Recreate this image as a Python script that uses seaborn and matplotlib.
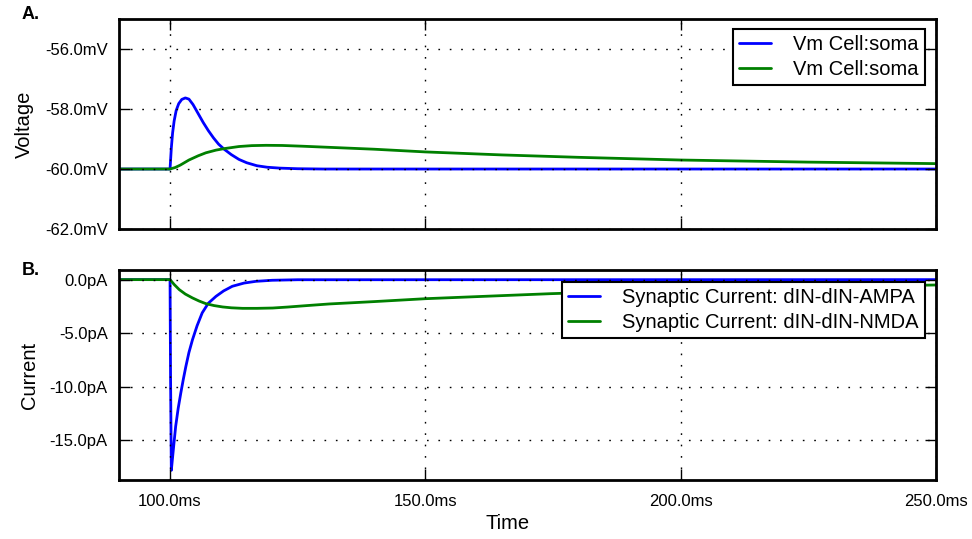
import matplotlib
matplotlib.use("Agg")
import matplotlib.pyplot as plt
import seaborn as sns
import pandas as pd
from matplotlib.ticker import FuncFormatter, MultipleLocator

# ---- data ----
t_vm_ampa = [90, 100, 100.25, 100.5, 100.8, 101.2, 101.7, 102.3, 103.0, 103.7, 104.5, 105.5, 106.5,
             107.5, 108.5, 109.5, 110.6, 112, 113.5, 115, 117, 119, 121.5, 125, 130, 250]
vm_ampa = [-60, -60, -59.3, -58.8, -58.4, -58.05, -57.82, -57.68, -57.63, -57.67, -57.85, -58.15, -58.45,
           -58.72, -58.96, -59.17, -59.34, -59.52, -59.68, -59.79, -59.89, -59.94, -59.97, -59.99, -60, -60]

t_vm_nmda = [90, 100, 101, 102, 103.7, 105.5, 107, 109, 110.6, 113.5, 116, 118.8, 122, 126, 133, 140,
             150, 165, 180, 200, 225, 250]
vm_nmda = [-60, -60, -59.95, -59.87, -59.7, -59.56, -59.46, -59.37, -59.32, -59.25, -59.22, -59.21,
           -59.215, -59.24, -59.29, -59.34, -59.43, -59.53, -59.61, -59.7, -59.77, -59.82]

t_i_ampa = [90, 100, 100.1, 100.25, 100.7, 101.1, 101.6, 102.1, 102.6, 103.1, 103.7, 104.4, 105.3, 106.3,
            107.5, 109, 110.5, 112.2, 114.5, 116.8, 120, 125, 250]
i_ampa = [0, 0, -9, -17.8, -15.6, -13.7, -12, -10.6, -9.3, -8.1, -6.8, -5.6, -4.3, -3.1,
          -2.2, -1.56, -1.05, -0.62, -0.32, -0.16, -0.06, -0.01, 0]

t_i_nmda = [90, 100, 100.8, 101.8, 103, 104.4, 105.7, 107, 108.6, 110.3, 112, 114.2, 117, 120.1, 123,
            126.6, 131.2, 140, 150, 162, 174.6, 190, 210, 230, 250]
i_nmda = [0, 0, -0.45, -0.93, -1.35, -1.71, -2.0, -2.24, -2.42, -2.55, -2.63, -2.68, -2.68, -2.65, -2.56,
          -2.43, -2.27, -2.05, -1.78, -1.55, -1.31, -1.08, -0.84, -0.65, -0.5]

vm_labels = ["Vm Cell:soma", "Vm Cell:soma"]
i_labels = ["Synaptic Current: dIN-dIN-AMPA", "Synaptic Current: dIN-dIN-NMDA"]
x_ticks = [100, 150, 200, 250]
vm_ticks = [-62, -60, -58, -56]
i_ticks = [-15, -10, -5, 0]

# ---- style ----
sns.set_theme(style="white")
plt.rcParams["font.family"] = ["Liberation Sans", "DejaVu Sans"]
plt.rcParams["axes.axisbelow"] = False
for k in ("text.color", "axes.labelcolor", "xtick.color", "ytick.color", "axes.edgecolor"):
    plt.rcParams[k] = "black"

BLUE = "#0000ff"
GREEN = "#008000"

fig = plt.figure(figsize=(9.72, 5.39), dpi=100)
ax1 = fig.add_axes([0.1224, 0.5751, 0.8406, 0.3896])
ax2 = fig.add_axes([0.1224, 0.1095, 0.8406, 0.3896])

sns.lineplot(x=t_vm_ampa, y=vm_ampa, ax=ax1, color=BLUE, lw=2.0, label=vm_labels[0], sort=False)
sns.lineplot(x=t_vm_nmda, y=vm_nmda, ax=ax1, color=GREEN, lw=2.0, label=vm_labels[1], sort=False)
sns.lineplot(x=t_i_ampa, y=i_ampa, ax=ax2, color=BLUE, lw=2.0, label=i_labels[0], sort=False)
sns.lineplot(x=t_i_nmda, y=i_nmda, ax=ax2, color=GREEN, lw=2.0, label=i_labels[1], sort=False)

ax1.set_ylim(-62, -55)
ax2.set_ylim(-18.7, 0.9)
for ax in (ax1, ax2):
    ax.set_xlim(90, 250)
    ax.set_xticks(x_ticks)
    ax.set_axisbelow(False)
    ax.grid(True, color="black", linestyle=(0, (1.2, 7.0)), linewidth=1.0)
    ax.tick_params(direction="in", top=True, right=True, bottom=True, left=True,
                   length=8, width=1, labelsize=12, pad=8, color="black", labelcolor="black")
    ax.tick_params(axis="x", pad=10)
    for s in ax.spines.values():
        s.set_linewidth(2.0)
        s.set_color("black")

ax1.set_yticks(vm_ticks)
ax2.set_yticks(i_ticks)
ax1.yaxis.set_major_formatter(FuncFormatter(lambda v, p: f"{v:.1f}mV"))
ax2.yaxis.set_major_formatter(FuncFormatter(lambda v, p: f"{v:.1f}pA"))
ax2.xaxis.set_major_formatter(FuncFormatter(lambda v, p: f"{v:.1f}ms"))
ax1.tick_params(labelbottom=False)

ax1.set_ylabel("Voltage", fontsize=14.5, labelpad=8, color="black")
ax2.set_ylabel("Current", fontsize=14.5, labelpad=8, color="black")
ax2.set_xlabel("Time", fontsize=14.5, color="black")
ax2.xaxis.set_label_coords(0.475, -0.16)

leg_kw = dict(loc="upper right", borderaxespad=0, fontsize=14.5, frameon=True, fancybox=False,
              framealpha=1, edgecolor="black", handlelength=1.6, handletextpad=1.1,
              borderpad=0.3, labelspacing=0.3)
l1 = ax1.legend(bbox_to_anchor=(0.9865, 0.951), **leg_kw)
l2 = ax2.legend(bbox_to_anchor=(0.9865, 0.943), **leg_kw)
for lg in (l1, l2):
    lg.get_frame().set_linewidth(1.5)
    for h in lg.get_lines():
        h.set_linewidth(2.0)
    for tx in lg.get_texts():
        tx.set_color("black")

fig.text(22 / 972, 1 - 6 / 539, "A.", fontsize=13, fontweight="bold", va="top", ha="left")
fig.text(22 / 972, 1 - 262 / 539, "B.", fontsize=13, fontweight="bold", va="top", ha="left")

fig.savefig("out.png", dpi=100)
